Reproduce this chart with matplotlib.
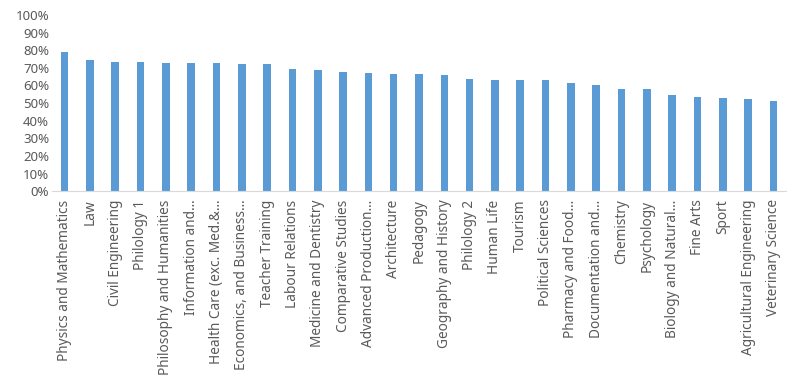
import numpy as np
import matplotlib
matplotlib.use("Agg")
import matplotlib.pyplot as plt
from matplotlib.ticker import PercentFormatter

# Share of students per field of study
fields = ["Physics and Mathematics", "Law", "Civil Engineering", "Philology 1",
          "Philosophy and Humanities", "Information and…",
          "Health Care (exc. Med.&…", "Economics, and Business…",
          "Teacher Training", "Labour Relations", "Medicine and Dentistry",
          "Comparative Studies", "Advanced Production…", "Architecture",
          "Pedagogy", "Geography and History", "Philology 2", "Human Life",
          "Tourism", "Political Sciences", "Pharmacy and Food…",
          "Documentation and…", "Chemistry", "Psychology",
          "Biology and Natural…", "Fine Arts", "Sport",
          "Agricultural Engineering", "Veterinary Science"]
shares = [0.791, 0.742, 0.731, 0.731, 0.730, 0.725, 0.725, 0.720, 0.720,
          0.695, 0.686, 0.676, 0.670, 0.665, 0.663, 0.657, 0.636, 0.631,
          0.631, 0.631, 0.612, 0.604, 0.580, 0.580, 0.547, 0.532, 0.526,
          0.523, 0.513]

plt.rcParams['font.family'] = ['Noto Sans', 'DejaVu Sans']

fig = plt.figure(figsize=(8, 3.8), dpi=100)
ax = fig.add_axes([0.065, 0.497, 0.9175, 0.4635])

x = np.arange(len(fields))
ax.bar(x, shares, width=0.3, color='#5B9BD5')

ax.set_xlim(-0.5, len(fields) - 0.5)
ax.set_ylim(0, 1)
ax.set_yticks(np.arange(0, 1.01, 0.1))
ax.yaxis.set_major_formatter(PercentFormatter(1.0, decimals=0))
ax.set_xticks(x)
ax.set_xticklabels(fields, rotation=90, ha='center', va='top')

for side in ['top', 'right', 'left']:
    ax.spines[side].set_visible(False)
ax.spines['bottom'].set_color('#D9D9D9')
ax.tick_params(axis='both', length=0, colors='#595959')
ax.tick_params(axis='x', pad=6, labelsize=9.8)
ax.tick_params(axis='y', pad=2, labelsize=9.5)

fig.savefig('out.png', dpi=100)
